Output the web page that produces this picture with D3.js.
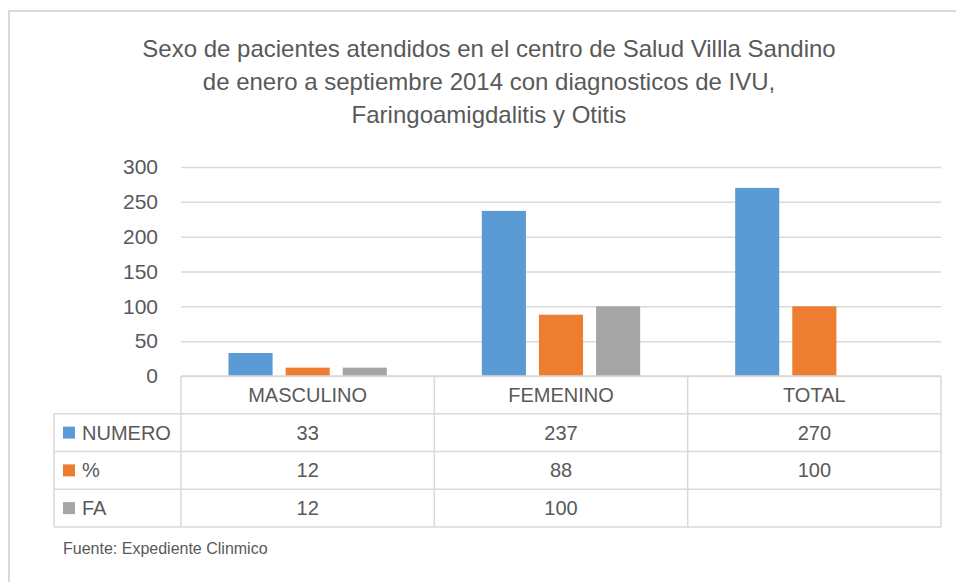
<!DOCTYPE html>
<html>
<head>
<meta charset="utf-8">
<script src="https://cdn.jsdelivr.net/npm/d3@7"></script>
<style>
  body { margin: 0; background: #fff; }
  svg text { font-family: "Liberation Sans", Arial, sans-serif; fill: #595959; }
</style>
</head>
<body>
<svg id="chart" width="956" height="582"></svg>
<script>
// Data
let titleLines = ["Sexo de pacientes atendidos en el centro de Salud Villla Sandino",
    "de enero a septiembre 2014 con diagnosticos de IVU,",
    "Faringoamigdalitis y Otitis"];
let categories = ["MASCULINO", "FEMENINO", "TOTAL"];
let seriesNames = ["NUMERO", "%", "FA"];
let numero = [33, 237, 270];
let porcentaje = [12, 88, 100];
let fa = [12, 100, null];
let yTicks = [0, 50, 100, 150, 200, 250, 300];
let colors = ["#5B9BD5", "#ED7D31", "#A5A5A5"];
let source = "Fuente: Expediente Clinmico";

let seriesValues = [numero, porcentaje, fa];

let svg = d3.select("#chart");
let margin = {top: 167, left: 181, right: 15, bottom: 55};
let plotBottom = 376;
let tableBottom = 527;
let legendLeft = 54;

// Outer frame (only top & left edges visible)
svg.append("line").attr("x1", 9).attr("x2", 956).attr("y1", 11).attr("y2", 11)
    .attr("stroke", "#d9d9d9").attr("stroke-width", 2);
svg.append("line").attr("x1", 9).attr("x2", 9).attr("y1", 10).attr("y2", 582)
    .attr("stroke", "#d9d9d9").attr("stroke-width", 2);

// Title
svg.selectAll(".title")
    .data(titleLines)
    .enter().append("text")
    .attr("class", "title")
    .attr("x", 489)
    .attr("y", (d, i) => 57 + i * 33)
    .attr("text-anchor", "middle")
    .attr("font-size", "24px")
    .text(d => d);

// Scales
let x0 = d3.scaleBand()
    .domain(categories)
    .range([margin.left, 956 - margin.right]);
let x1 = d3.scaleBand()
    .domain(seriesNames)
    .range([47.5, x0.bandwidth() - 47.5])
    .paddingInner(0.228);
let y = d3.scaleLinear()
    .domain([0, 300])
    .range([plotBottom, margin.top]);

// Gridlines + y axis
let yAxis = d3.axisLeft(y)
    .tickValues(yTicks)
    .tickSize(-(x0.range()[1] - x0.range()[0]))
    .tickPadding(23);
let gy = svg.append("g")
    .attr("transform", `translate(${margin.left},0)`)
    .call(yAxis);
gy.select(".domain").remove();
gy.selectAll(".tick line").attr("stroke", "#d9d9d9").attr("stroke-width", 1.5);
gy.selectAll(".tick text")
    .attr("font-size", "21px")
    .attr("font-family", "Liberation Sans, Arial, sans-serif")
    .attr("fill", "#595959");

// Bars
categories.forEach((c, ci) => {
    seriesNames.forEach((s, si) => {
        let v = seriesValues[si][ci];
        if (v == null) return;
        svg.append("rect")
            .attr("x", x0(c) + x1(s))
            .attr("y", y(v))
            .attr("width", x1.bandwidth())
            .attr("height", y(0) - y(v))
            .attr("fill", colors[si]);
    });
});

// Data table
let rows = d3.scaleBand()
    .domain(["header"].concat(seriesNames))
    .range([plotBottom, tableBottom]);
let lineColor = "#d9d9d9";
let table = svg.append("g").attr("stroke", lineColor).attr("stroke-width", 1.5);

// horizontal lines
table.append("line").attr("x1", margin.left).attr("x2", x0.range()[1])
    .attr("y1", plotBottom).attr("y2", plotBottom);
seriesNames.forEach(s => {
    table.append("line").attr("x1", legendLeft).attr("x2", x0.range()[1])
        .attr("y1", rows(s)).attr("y2", rows(s));
});
table.append("line").attr("x1", legendLeft).attr("x2", x0.range()[1])
    .attr("y1", tableBottom).attr("y2", tableBottom);

// vertical lines
table.append("line").attr("x1", legendLeft).attr("x2", legendLeft)
    .attr("y1", rows(seriesNames[0])).attr("y2", tableBottom);
categories.forEach(c => {
    table.append("line").attr("x1", x0(c)).attr("x2", x0(c))
        .attr("y1", plotBottom).attr("y2", tableBottom);
});
table.append("line").attr("x1", x0.range()[1]).attr("x2", x0.range()[1])
    .attr("y1", plotBottom).attr("y2", tableBottom);

// header labels
svg.selectAll(".cat")
    .data(categories)
    .enter().append("text")
    .attr("x", d => x0(d) + x0.bandwidth() / 2)
    .attr("y", rows("header") + rows.bandwidth() / 2 + 7)
    .attr("text-anchor", "middle")
    .attr("font-size", "20px")
    .text(d => d);

// row legend + values
seriesNames.forEach((s, si) => {
    let cy = rows(s) + rows.bandwidth() / 2;
    svg.append("rect")
        .attr("x", 63).attr("y", cy - 6)
        .attr("width", 12).attr("height", 12)
        .attr("fill", colors[si]);
    svg.append("text")
        .attr("x", 82).attr("y", cy + 7)
        .attr("font-size", "20px")
        .text(s);
    categories.forEach((c, ci) => {
        let v = seriesValues[si][ci];
        if (v == null) return;
        svg.append("text")
            .attr("x", x0(c) + x0.bandwidth() / 2)
            .attr("y", cy + 7)
            .attr("text-anchor", "middle")
            .attr("font-size", "20px")
            .text(v);
    });
});

// Source
svg.append("text")
    .attr("x", 63).attr("y", 554)
    .attr("font-size", "16px")
    .text(source);
</script>
</body>
</html>
